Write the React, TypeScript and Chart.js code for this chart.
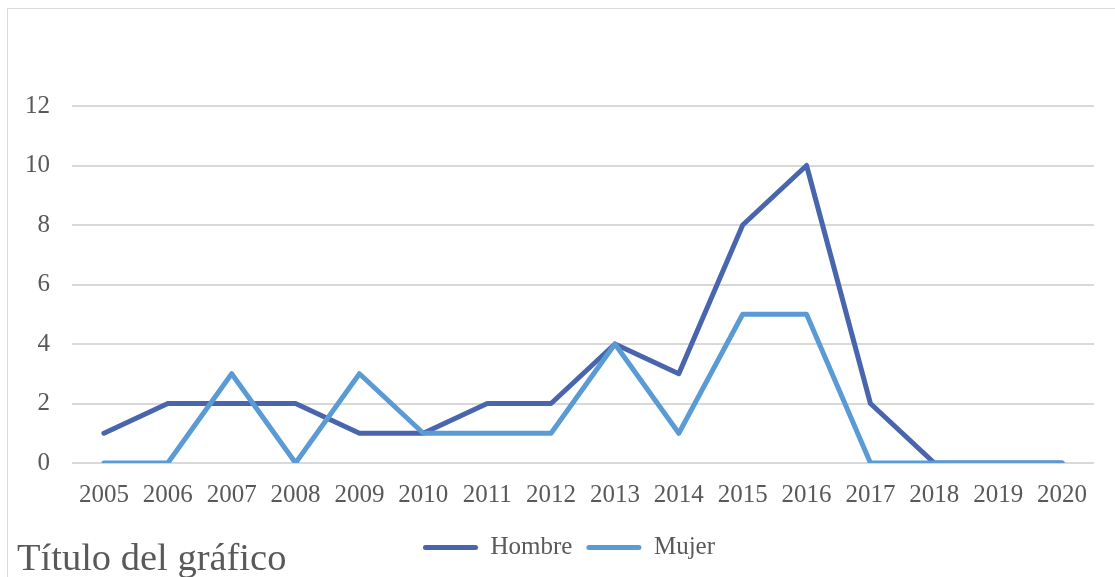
import React, { useEffect, useRef } from "react";
import { Chart, registerables } from "chart.js";

Chart.register(...registerables);

const TITLE = "Título del gráfico";
const YEARS = ["2005", "2006", "2007", "2008", "2009", "2010", "2011", "2012", "2013", "2014", "2015", "2016", "2017", "2018", "2019", "2020"];
const SERIES_NAMES = ["Hombre", "Mujer"];
const HOMBRE = [1, 2, 2, 2, 1, 1, 2, 2, 4, 3, 8, 10, 2, 0, 0, 0];
const MUJER = [0, 0, 3, 0, 3, 1, 1, 1, 4, 1, 5, 5, 0, 0, 0, 0];
const Y_MIN = 0;
const Y_MAX = 12;
const Y_STEP = 2;

const FONT = "'Liberation Serif', 'Times New Roman', serif";
const TEXT = "#595959";
const GRID = "#D9D9D9";
const C_HOMBRE = "#4865AD";
const C_MUJER = "#5B9BD5";

const W = 1107;
const H = 568;

const titlePlugin = {
  id: "bottomTitle",
  afterDraw(chart: any) {
    const ctx = chart.ctx;
    ctx.save();
    ctx.font = `38.5px ${FONT}`;
    ctx.fillStyle = TEXT;
    ctx.textAlign = "left";
    ctx.textBaseline = "alphabetic";
    ctx.fillText(TITLE, 9, 561);
    ctx.restore();
  },
};

export default function App() {
  const ref = useRef<HTMLCanvasElement | null>(null);
  useEffect(() => {
    if (!ref.current) return;
    const chart = new Chart(ref.current, {
      type: "line",
      data: {
        labels: YEARS,
        datasets: [
          {
            label: SERIES_NAMES[0],
            data: HOMBRE,
            borderColor: C_HOMBRE,
            backgroundColor: C_HOMBRE,
            borderWidth: 5,
            pointRadius: 0,
            pointHoverRadius: 0,
            borderCapStyle: "round",
            borderJoinStyle: "round",
            tension: 0,
            order: 1,
          },
          {
            label: SERIES_NAMES[1],
            data: MUJER,
            borderColor: C_MUJER,
            backgroundColor: C_MUJER,
            borderWidth: 5,
            pointRadius: 0,
            pointHoverRadius: 0,
            borderCapStyle: "round",
            borderJoinStyle: "round",
            tension: 0,
            order: 0,
          },
        ],
      },
      options: {
        responsive: false,
        animation: false,
        layout: { padding: { top: 97, right: -15, left: 0, bottom: 7 } },
        scales: {
          x: {
            offset: true,
            grid: { display: false, drawTicks: false },
            border: { display: false },
            ticks: {
              color: TEXT,
              font: { family: FONT, size: 25 },
              padding: 17,
              maxRotation: 0,
              autoSkip: false,
            },
            afterFit: (s: any) => {
              s.height = 58;
            },
          },
          y: {
            min: Y_MIN,
            max: Y_MAX,
            grid: { color: GRID, lineWidth: 2, drawTicks: false },
            border: { display: false },
            ticks: {
              stepSize: Y_STEP,
              color: TEXT,
              font: { family: FONT, size: 25 },
              padding: 22,
            },
            afterFit: (s: any) => {
              s.width = 64;
            },
          },
          yRight: {
            position: "right",
            min: Y_MIN,
            max: Y_MAX,
            grid: { display: false, drawTicks: false },
            border: { display: false },
            ticks: { display: false },
            afterFit: (s: any) => {
              s.width = 36;
            },
          },
        },
        plugins: {
          title: { display: false },
          tooltip: { enabled: false },
          legend: {
            display: true,
            position: "bottom",
            labels: {
              color: TEXT,
              font: { family: FONT, size: 25 },
              boxWidth: 55,
              boxHeight: 5,
              padding: 14,
              useBorderRadius: true,
              borderRadius: 2.5,
              sort: (a: any, b: any) => a.datasetIndex - b.datasetIndex,
              generateLabels: (c: any) => {
                const items = Chart.defaults.plugins.legend.labels.generateLabels(c);
                return items.map((it: any) => ({ ...it, lineWidth: 0 }));
              },
            },
          },
        },
      },
      plugins: [titlePlugin],
    });
    return () => chart.destroy();
  }, []);

  return (
    <div
      style={{
        position: "fixed",
        left: 7,
        top: 8,
        width: W + 1,
        height: H + 1,
        borderTop: `1px solid ${GRID}`,
        borderLeft: `1px solid ${GRID}`,
        boxSizing: "border-box",
        overflow: "hidden",
        background: "#fff",
      }}
    >
      <canvas ref={ref} width={W} height={H} style={{ display: "block", width: W, height: H }} />
    </div>
  );
}
